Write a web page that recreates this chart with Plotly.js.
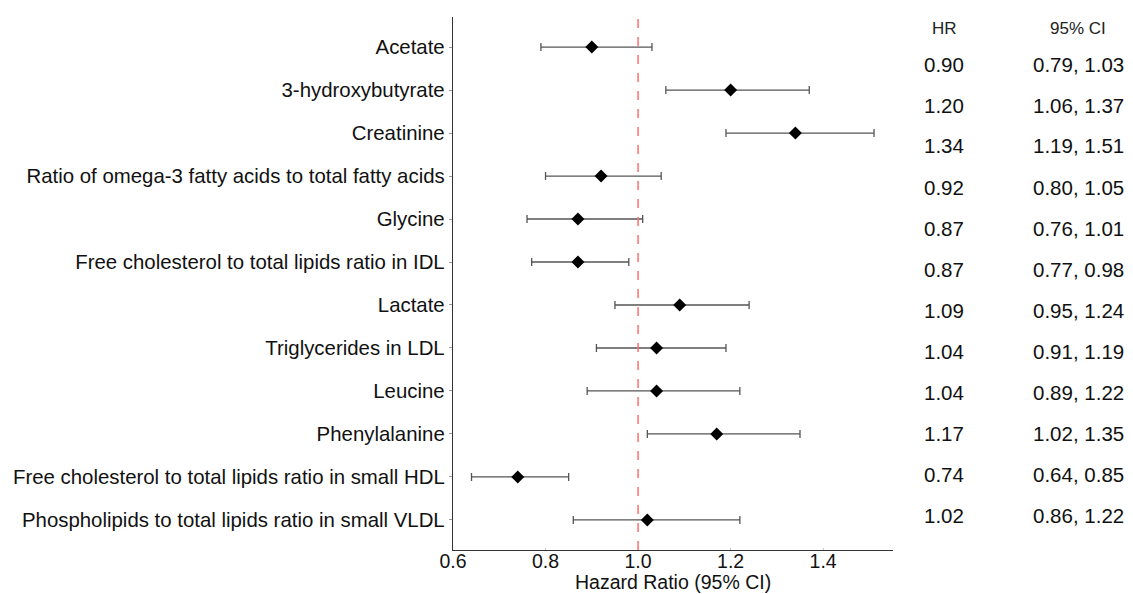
<!DOCTYPE html>
<html><head><meta charset="utf-8">
<script src="https://cdn.plot.ly/plotly-3.0.1.min.js"></script>
<style>html,body{margin:0;padding:0;background:#fff;}#chart{width:1133px;height:594px;}</style>
</head><body><div id="chart"></div>
<script>
const labels = ["Acetate","3-hydroxybutyrate","Creatinine","Ratio of omega-3 fatty acids to total fatty acids","Glycine","Free cholesterol to total lipids ratio in IDL","Lactate","Triglycerides in LDL","Leucine","Phenylalanine","Free cholesterol to total lipids ratio in small HDL","Phospholipids to total lipids ratio in small VLDL"];
const hr = [0.90,1.20,1.34,0.92,0.87,0.87,1.09,1.04,1.04,1.17,0.74,1.02];
const lo = [0.79,1.06,1.19,0.80,0.76,0.77,0.95,0.91,0.89,1.02,0.64,0.86];
const hi = [1.03,1.37,1.51,1.05,1.01,0.98,1.24,1.19,1.22,1.35,0.85,1.22];
const xTicks = [0.6,0.8,1.0,1.2,1.4];
const xTitle = 'Hazard Ratio (95% CI)';

const fontFam = "Liberation Sans, Arial, sans-serif";
const W=1133, H=594, ml=453, mr=0, mt=17, mb=44;
const pw = W-ml-mr, ph = H-mt-mb;
const axisRight = 893;
const dom = (axisRight-ml)/pw;

const trace = {
  x: hr, y: labels, type:'scatter', mode:'markers',
  marker:{symbol:'diamond', size:10, color:'#000'},
  error_x:{type:'data', symmetric:false,
    array: hi.map((h,i)=>h-hr[i]), arrayminus: lo.map((l,i)=>hr[i]-l),
    color:'#555', thickness:1.3, width:4},
  hoverinfo:'skip', showlegend:false, cliponaxis:false
};

const annotations = [];
const hdrY = 1-(29-mt)/ph;
const xHR = (944-ml)/pw, xCI = (1078-ml)/pw;
annotations.push({xref:'paper',yref:'paper',x:xHR,y:hdrY,text:'HR',showarrow:false,xanchor:'center',yanchor:'middle',font:{family:fontFam,size:17,color:'#222'}});
annotations.push({xref:'paper',yref:'paper',x:xCI,y:hdrY,text:'95% CI',showarrow:false,xanchor:'center',yanchor:'middle',font:{family:fontFam,size:17,color:'#222'}});
const y0=64, y1=515;
hr.forEach((v,i)=>{
  const py = y0 + (y1-y0)*i/(hr.length-1);
  const yy = 1-(py-mt)/ph;
  annotations.push({xref:'paper',yref:'paper',x:xHR,y:yy,text:v.toFixed(2),showarrow:false,xanchor:'center',yanchor:'middle',font:{family:fontFam,size:20.5,color:'#111'}});
  annotations.push({xref:'paper',yref:'paper',x:xCI,y:yy,text:lo[i].toFixed(2)+', '+hi[i].toFixed(2),showarrow:false,xanchor:'center',yanchor:'middle',font:{family:fontFam,size:20.5,color:'#111'}});
});
// x-axis title
annotations.push({xref:'paper',yref:'paper',x:(dom/2),y:1-(582-mt)/ph,text:xTitle,showarrow:false,xanchor:'center',yanchor:'middle',font:{family:fontFam,size:19.5,color:'#111'}});

const layout = {
  width:W, height:H, margin:{l:ml,r:mr,t:mt,b:mb},
  paper_bgcolor:'#fff', plot_bgcolor:'#fff',
  font:{family:fontFam, color:'#111'},
  xaxis:{domain:[0,dom], range:[0.6,1.551], tickvals:xTicks, ticktext:xTicks.map(v=>v.toFixed(1)),
    showgrid:false, zeroline:false, showline:true, linecolor:'#333', linewidth:1.2,
    ticks:'inside', ticklen:2, tickcolor:'#ccc', ticklabelstandoff:-7, tickfont:{size:19.5,color:'#111'}},
  yaxis:{type:'category', categoryorder:'array', categoryarray:labels, range:[11.7,-0.7],
    showgrid:false, zeroline:false, showline:true, linecolor:'#333', linewidth:1.2,
    ticks:'outside', ticklen:3, tickcolor:'#999', tickfont:{size:20.4,color:'#111'}},
  shapes:[{type:'line', xref:'x', yref:'paper', x0:1, x1:1, y0:0, y1:1,
    line:{color:'#ff6e6e', width:1.5, dash:'dash'}}],
  annotations: annotations
};
Plotly.newPlot('chart',[trace],layout,{displayModeBar:false, staticPlot:true});
</script></body></html>
